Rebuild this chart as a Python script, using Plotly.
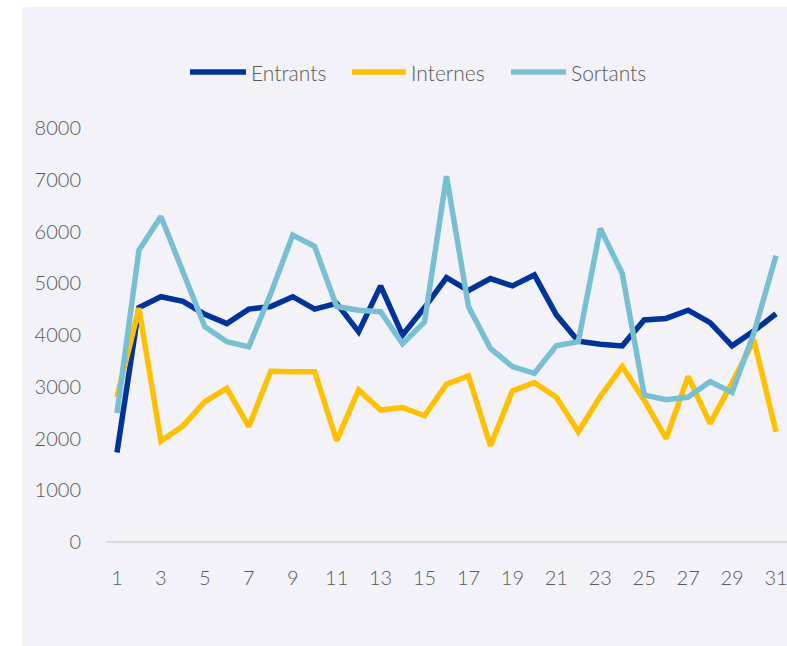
import plotly.graph_objects as go

days = list(range(1, 32))
entrants = [1730, 4530, 4740, 4650, 4400, 4220, 4500, 4550, 4740, 4500, 4610,
            4060, 4950, 4000, 4530, 5110, 4860, 5090, 4950, 5160, 4390,
            3880, 3820, 3790, 4290, 4320, 4480, 4240, 3790, 4080, 4410]
internes = [2800, 4520, 1950, 2240, 2710, 2970, 2230, 3300, 3290, 3290, 1960,
            2940, 2550, 2600, 2440, 3050, 3210, 1860, 2920, 3080, 2800,
            2130, 2810, 3390, 2740, 2000, 3200, 2290, 3080, 3900, 2130]
sortants = [2490, 5640, 6290, 5210, 4160, 3870, 3770, 4800, 5930, 5710, 4550,
            4480, 4450, 3830, 4250, 7070, 4550, 3740, 3390, 3260, 3790,
            3870, 6060, 5190, 2840, 2750, 2800, 3100, 2890, 4050, 5530]
series = [("Entrants", entrants, "#00339A"),
          ("Internes", internes, "#FFC000"),
          ("Sortants", sortants, "#79BFD3")]
ytick_vals = [0, 1000, 2000, 3000, 4000, 5000, 6000, 7000, 8000]
xtick_vals = list(range(1, 32, 2))

W, H = 787, 646
ml, mr, mt, mb = 106, 0, 128, 104
pw = W - ml - mr
ph = H - mt - mb


def px2paper_x(px):
    return (px - ml) / pw


def px2paper_y(py):
    return (H - mb - py) / ph


font_fam = "Lato, 'Open Sans', sans-serif"
text_col = "#595959"

fig = go.Figure()
for name, vals, col in series:
    fig.add_trace(go.Scatter(x=days, y=vals, name=name, mode="lines",
                             line=dict(color=col, width=5.5, shape="linear")))

# background panel
fig.add_shape(type="rect", xref="paper", yref="paper",
              x0=px2paper_x(22), x1=px2paper_x(790),
              y0=px2paper_y(650), y1=px2paper_y(7),
              fillcolor="#F2F2F8", line=dict(width=0), layer="below")

# legend drawn as line samples + labels
legend_pos = [(190, 246), (352, 406), (511, 566)]
leg_y = px2paper_y(72)
for (name, _, col), (lx0, lx1) in zip(series, legend_pos):
    fig.add_shape(type="line", xref="paper", yref="paper",
                  x0=px2paper_x(lx0), x1=px2paper_x(lx1), y0=leg_y, y1=leg_y,
                  line=dict(color=col, width=5.5), layer="above")
    fig.add_annotation(xref="paper", yref="paper", x=px2paper_x(lx1 + 3), y=leg_y,
                       text=name, showarrow=False, xanchor="left", yanchor="middle",
                       font=dict(size=21, color=text_col, family=font_fam, weight=300))

fig.update_layout(
    width=W, height=H,
    margin=dict(l=ml, r=mr, t=mt, b=mb),
    paper_bgcolor="white",
    plot_bgcolor="rgba(0,0,0,0)",
    font=dict(family=font_fam, color=text_col, size=20, weight=300),
    showlegend=False,
    xaxis=dict(range=[0.5, 31.5], tickvals=xtick_vals, ticktext=[str(v) for v in xtick_vals],
               showgrid=False, zeroline=False, showline=False, ticks="",
               ticklabelstandoff=22, ticklabeloverflow="allow",
               tickfont=dict(size=20, color=text_col)),
    yaxis=dict(range=[0, 8000], tickvals=ytick_vals, ticktext=[str(v) for v in ytick_vals],
               showgrid=False, zeroline=True, zerolinecolor="#D9D9D9", zerolinewidth=1.5,
               showline=False, ticks="", ticklabelstandoff=24,
               tickfont=dict(size=20, color=text_col)),
)

fig.write_html("out.html", config={"displayModeBar": False},
               post_script="document.body.style.margin='0';document.body.style.overflow='hidden';")
